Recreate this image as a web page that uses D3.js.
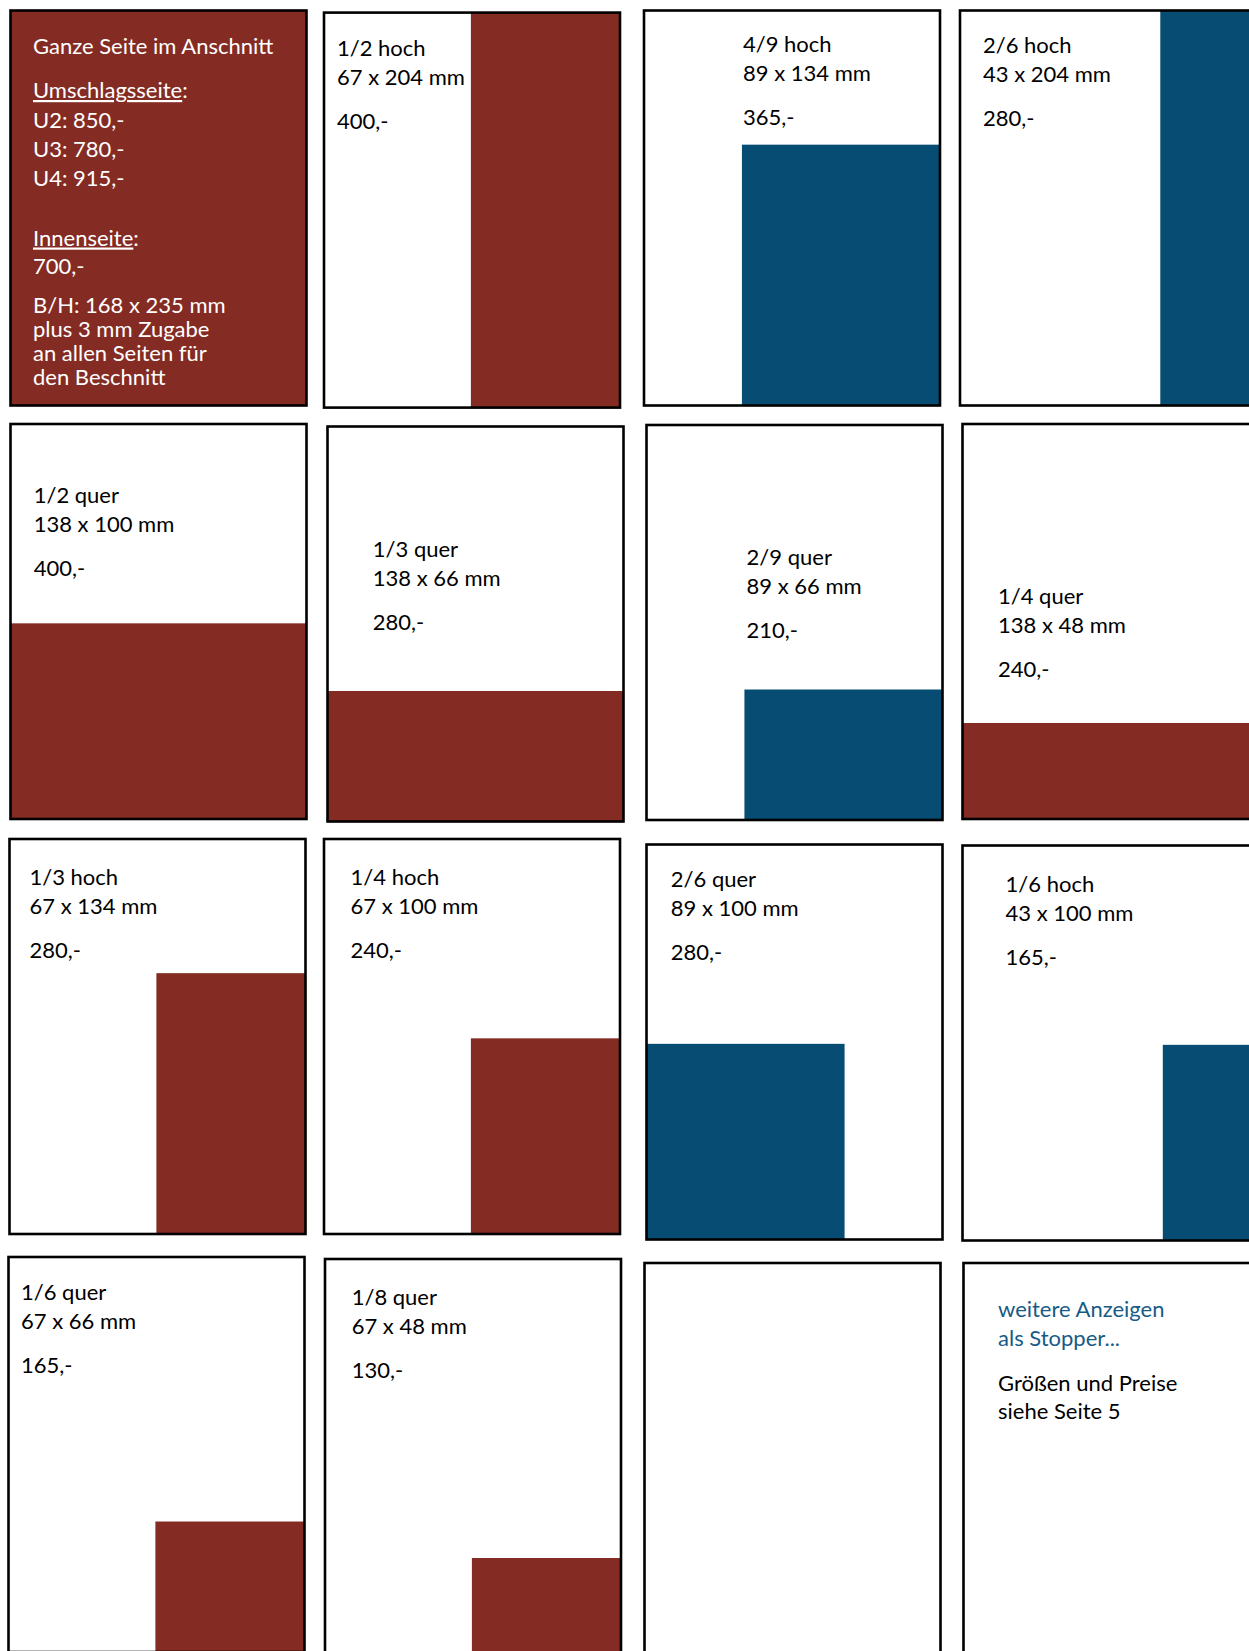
<!DOCTYPE html>
<html>
<head>
<meta charset="utf-8">
<script src="https://cdn.jsdelivr.net/npm/d3@7/dist/d3.min.js"></script>
<style>
  html, body { margin: 0; padding: 0; background: #fff; overflow: hidden; }
  svg { display: block; }
  text { font-family: Lato, "Open Sans", sans-serif; }
</style>
</head>
<body>
<div id="chart"></div>
<script>
// ---------------- DATA ----------------
const formats   = ["1/2 hoch","4/9 hoch","2/6 hoch","1/2 quer","1/3 quer","2/9 quer","1/4 quer","1/3 hoch","1/4 hoch","2/6 quer","1/6 hoch","1/6 quer","1/8 quer"];
const widthsMM  = [67, 89, 43, 138, 138, 89, 138, 67, 67, 89, 43, 67, 67];
const heightsMM = [204, 134, 204, 100, 66, 66, 48, 134, 100, 100, 100, 66, 48];
const prices    = [400, 365, 280, 400, 280, 210, 240, 280, 240, 280, 165, 165, 130];
const groups    = ["rot","blau","blau","rot","rot","blau","rot","rot","rot","blau","blau","rot","rot"];
const anchors   = ["right","right","right","right","right","right","right","right","right","left","right","right","right"];

const fullPageTitle = "Ganze Seite im Anschnitt";
const coverLabel  = "Umschlagsseite";
const coverPages  = ["U2","U3","U4"];
const coverPrices = [850, 780, 915];
const innerLabel  = "Innenseite";
const innerPrice  = 700;
const pageSizeMM  = [168, 235];
const bleedMM     = 3;

const stopperLines = ["weitere Anzeigen","als Stopper..."];
const stopperNote  = ["Größen und Preise","siehe Seite 5"];

// ---------------- LAYOUT ----------------
const W = 1249, H = 1651;
const PW = 296, PH = 395;
// panel origins: 0 = full page, 1..13 = formats, 14 = empty, 15 = stopper
const panelX = [10.5, 324, 644, 960,  10.5, 327.5, 646.5, 962.5,  9.5, 324, 646.5, 962.5,  8.5, 325, 644.5, 963.5];
const panelY = [10.5, 12.6, 10.5, 10.5,  424, 426.5, 425, 424,  839, 839, 844.5, 845.5,  1257, 1259, 1263, 1263];
// first text baseline of each format panel (absolute)
const textX = [337, 743, 983, 33.7, 372.8, 746.6, 998, 29.5, 350.6, 670.8, 1005.6, 21, 351.7];
const textY = [56, 51.7, 53, 503, 556.7, 565, 604, 885, 885, 887, 891.7, 1300, 1305];

const colorScale = d3.scaleOrdinal().domain(["rot","blau"]).range(["#842C24","#064C73"]);
const xMM = d3.scaleLinear().domain([0, 133]).range([0, PW]).clamp(true);
const yMM = d3.scaleLinear().domain([0, 204]).range([4, PH]).clamp(true);
const fmtPrice = v => `${v},-`;

const FS = 22;
const svg = d3.select("#chart").append("svg").attr("width", W).attr("height", H);

// ---------- panel 0: full page ----------
const p0 = svg.append("g");
p0.append("rect").attr("x", panelX[0]).attr("y", panelY[0]).attr("width", PW).attr("height", PH)
  .attr("fill", colorScale("rot")).attr("stroke", "#000").attr("stroke-width", 2.6);
const t0x = 33;
function wline(y, txt, underline, rest) {
  const t = p0.append("text").attr("x", t0x).attr("y", y).attr("fill", "#fff").attr("font-size", FS);
  if (underline) {
    t.append("tspan").attr("text-decoration", "underline").text(txt);
    t.append("tspan").text(rest || "");
  } else t.text(txt);
}
wline(54, fullPageTitle);
wline(98, coverLabel, true, ":");
coverPages.forEach((u, i) => wline(128 + i * 29, `${u}: ${fmtPrice(coverPrices[i])}`));
wline(245.5, innerLabel, true, ":");
wline(274, fmtPrice(innerPrice));
wline(313, `B/H: ${pageSizeMM[0]} x ${pageSizeMM[1]} mm`);
wline(337, `plus ${bleedMM} mm Zugabe`);
wline(361, "an allen Seiten für");
wline(385, "den Beschnitt");

// ---------- format panels ----------
const data = formats.map((f, i) => ({
  name: f, w: widthsMM[i], h: heightsMM[i], price: prices[i], group: groups[i], anchor: anchors[i],
  px: panelX[i + 1], py: panelY[i + 1], tx: textX[i], ty: textY[i]
}));

const panels = svg.selectAll("g.fmt").data(data).join("g").attr("class", "fmt");
panels.append("rect").attr("class", "bg")
  .attr("x", d => d.px).attr("y", d => d.py).attr("width", PW).attr("height", PH)
  .attr("fill", "#fff");
panels.each(function(d) {
  const g = d3.select(this);
  const lines = [[d.name, 0], [`${d.w} x ${d.h} mm`, 28.8], [fmtPrice(d.price), 73]];
  lines.forEach(([s, dy]) => g.append("text").attr("x", d.tx).attr("y", d.ty + dy)
    .attr("font-size", FS).attr("fill", "#000").text(s));
});
panels.append("rect").attr("class", "ad")
  .attr("x", d => d.anchor === "right" ? d.px + PW - xMM(d.w) : d.px)
  .attr("y", d => d.py + PH - yMM(d.h))
  .attr("width", d => xMM(d.w))
  .attr("height", d => yMM(d.h))
  .attr("fill", d => colorScale(d.group));
panels.append("rect").attr("class", "frame")
  .attr("x", d => d.px).attr("y", d => d.py).attr("width", PW).attr("height", PH)
  .attr("fill", "none").attr("stroke", "#000").attr("stroke-width", 2.6);

// ---------- empty + stopper panels ----------
[14, 15].forEach(i => svg.append("rect").attr("x", panelX[i]).attr("y", panelY[i])
  .attr("width", PW).attr("height", PH).attr("fill", "none").attr("stroke", "#000").attr("stroke-width", 2.6));
stopperLines.forEach((s, i) => svg.append("text").attr("x", 998).attr("y", 1316.7 + i * 29.3)
  .attr("font-size", FS).attr("fill", "#175B86").text(s));
stopperNote.forEach((s, i) => svg.append("text").attr("x", 998).attr("y", 1390.7 + i * 28.6)
  .attr("font-size", FS).attr("fill", "#000").text(s));
</script>
</body>
</html>
